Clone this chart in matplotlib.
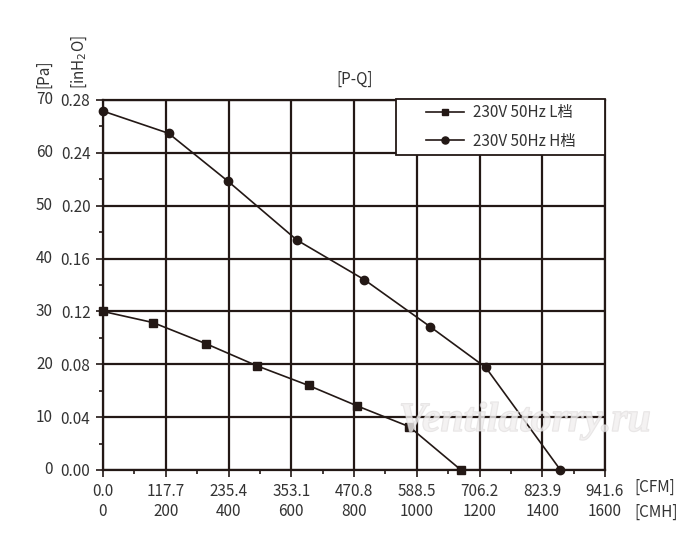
import matplotlib
matplotlib.use("Agg")
import matplotlib.pyplot as plt
import matplotlib.transforms as mtransforms
from matplotlib.patches import Rectangle
import matplotlib.patheffects as pe

plt.rcParams['font.family'] = ['Noto Sans CJK SC', 'DejaVu Sans']

# ---- data ----
cmh_ticks = [0, 200, 400, 600, 800, 1000, 1200, 1400, 1600]
cfm_labels = ["0.0", "117.7", "235.4", "353.1", "470.8", "588.5", "706.2", "823.9", "941.6"]
pa_ticks = [0, 10, 20, 30, 40, 50, 60, 70]
inh2o_labels = ["0.00", "0.04", "0.08", "0.12", "0.16", "0.20", "0.24", "0.28"]

series_names = ["230V 50Hz L档", "230V 50Hz H档"]
l_flow = [0, 159, 328, 491, 655, 811, 976, 1141]
l_pressure = [30.0, 27.9, 23.9, 19.7, 16.0, 12.1, 8.2, 0.0]
h_flow = [0, 209, 399, 618, 833, 1043, 1220, 1458]
h_pressure = [67.9, 63.7, 54.6, 43.5, 36.0, 27.1, 19.4, 0.0]

C = "#231815"
TC = "#333333"
FS = 11

fig = plt.figure(figsize=(7.0, 5.46), dpi=100)
ax = fig.add_axes([103/700, 1-470/546, (605-103)/700, (470-100)/546])

ax.plot(l_flow, l_pressure, color=C, lw=1.2, marker='s', ms=5.2, label=series_names[0], zorder=5, clip_on=False)
ax.plot(h_flow, h_pressure, color=C, lw=1.2, marker='o', ms=6.0, label=series_names[1], zorder=5, clip_on=False)

ax.set_xlim(0, 1600)
ax.set_ylim(0, 70)
ax.set_xticks(cmh_ticks)
ax.set_xticklabels(cfm_labels, fontsize=FS, color=TC)
ax.set_xticks([100, 300, 500, 700, 900, 1100, 1300, 1500], minor=True)
ax.set_yticks(pa_ticks)
ax.set_yticklabels(inh2o_labels, fontsize=FS, color=TC)
ax.set_yticks([5, 15, 25, 35, 45, 55, 65], minor=True)
ax.grid(True, which='major', color=C, lw=1.6)
for s in ax.spines.values():
    s.set_color(C)
    s.set_linewidth(1.6)
ax.tick_params(which='major', length=5, width=1.2, color=C, pad=4)
ax.tick_params(which='minor', length=3, width=1.2, color=C)

# Pa labels column
trans_y = mtransforms.blended_transform_factory(fig.transFigure, ax.transData)
for v in pa_ticks:
    fig.text(53/700, v, str(v), transform=trans_y, ha='right', va='center', fontsize=FS, color=TC)
# CMH labels row
trans_x = mtransforms.blended_transform_factory(ax.transData, fig.transFigure)
for v in cmh_ticks:
    fig.text(v, 1-512/546, str(v), transform=trans_x, ha='center', va='center', fontsize=FS, color=TC)

fig.text(634/700, 1-487/546, "[CFM]", ha='left', va='center', fontsize=FS, color=TC)
fig.text(634/700, 1-512/546, "[CMH]", ha='left', va='center', fontsize=FS, color=TC)
fig.text(44/700, 1-74/546, "[Pa]", rotation=90, ha='center', va='center', fontsize=FS, color=TC)
fig.text(79/700, 1-62/546, "[inH$_2$O]", rotation=90, ha='center', va='center', fontsize=FS, color=TC)
fig.text(355/700, 1-79/546, "[P-Q]", ha='center', va='center', fontsize=FS, color=TC)

# legend box
bx0, bx1, by0, by1 = 396, 605, 99, 155
rect = Rectangle(((bx0-103)/502, (470-by1)/370), (bx1-bx0)/502, (by1-by0)/370,
                 transform=ax.transAxes, facecolor='white', edgecolor=C, lw=1.3,
                 zorder=9, clip_on=False)
ax.add_patch(rect)
leg = ax.legend(loc='center',
                bbox_to_anchor=(((bx0+bx1)/2 - 103)/502, (470-(by0+by1)/2)/370),
                frameon=False, fontsize=FS, handlelength=2.5, labelspacing=0.75,
                handletextpad=0.6, markerscale=0.85, borderpad=0, borderaxespad=0)
leg.set_zorder(10)
for t in leg.get_texts():
    t.set_color(TC)

fig.text(525/700, 1-421/546, "Ventilatorry.ru", ha='center', va='center',
         fontsize=30, family='Liberation Serif', style='italic', fontweight='bold',
         color='#f2f0f0', alpha=0.55, zorder=20,
         path_effects=[pe.withStroke(linewidth=1.0, foreground='#d6d2d2')])

fig.savefig("out.png", dpi=100)
